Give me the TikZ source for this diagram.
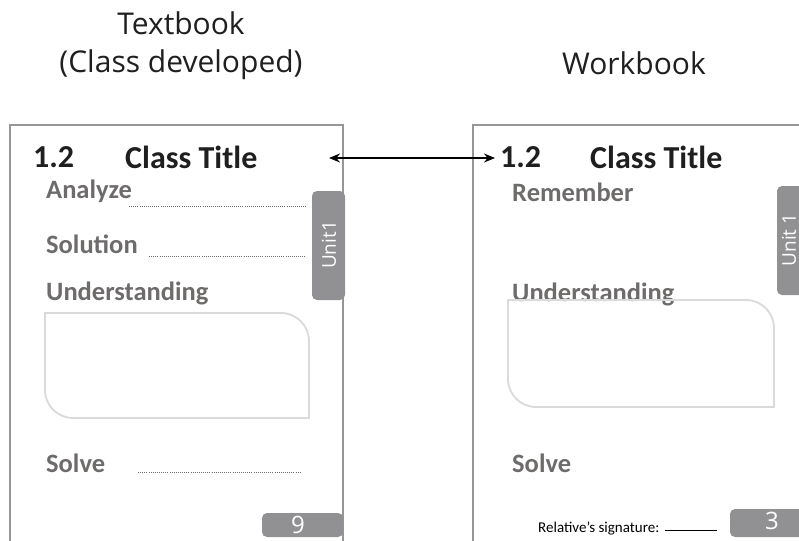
\documentclass[tikz,border=0pt]{standalone}
\usepackage{fontspec}
\setmainfont{Carlito}
\newfontfamily\headfont{Open Sans}
\usetikzlibrary{arrows.meta}

\definecolor{pagegray}{RGB}{150,150,150}
\definecolor{itemgray}{RGB}{110,107,107}
\definecolor{tabgray}{RGB}{145,145,148}
\definecolor{ansgray}{RGB}{218,218,218}

\begin{document}
\begin{tikzpicture}[x=1pt, y=-1pt,
    head/.style={font=\headfont\fontsize{30}{34}\selectfont, text=black!88, anchor=base, inner sep=0pt},
    sec/.style={font=\bfseries\fontsize{32}{36}\selectfont, text=black!88, anchor=west, inner sep=0pt},
    item/.style={font=\bfseries\fontsize{26.5}{30}\selectfont, text=itemgray, anchor=west, inner sep=0pt},
    dots/.style={draw=itemgray, line width=1pt, dash pattern=on 0.8pt off 1.3pt},
    pagebox/.style={draw=pagegray, line width=1.3pt},
    ansbox/.style={draw=ansgray, line width=1.8pt},
    tab/.style={fill=tabgray, rounded corners=5pt},
    tabtext/.style={font=\headfont\fontsize{19}{22}\selectfont, text=white, inner sep=0pt},
    numtext/.style={font=\headfont\fontsize{24}{28}\selectfont, text=white, inner sep=0pt},
    link/.style={line width=1.5pt, {Stealth[length=11pt,width=9pt]}-{Stealth[length=11pt,width=9pt]}}]
  \useasboundingbox (0,0) rectangle (799,540);
  \clip (0,0) rectangle (799,540);

  % headings
  \node[head] (tbhead) at (181,35) {Textbook};
  \node[head] (tbsub)  at (181,73) {(Class developed)};
  \node[head] (wbhead) at (634,75) {Workbook};

  % textbook page
  \draw[pagebox] (10,545) |- (343,125) -- (343,545);
  \node[sec] (tbnum)   at (33,157)  {1.2};
  \node[sec] (tbtitle) at (125,157) {Class Title};
  \node[item] (analyze) at (46,191) {Analyze};
  \node[item] (solution) at (46,244) {Solution};
  \node[item] (tbund)   at (46,293) {Understanding};
  \node[item] (tbsolve) at (46,463) {Solve};
  \draw[dots] (129,206) -- (306,206);
  \draw[dots] (149,256) -- (306,256);
  \draw[dots] (138,472) -- (300,472);
  \fill[tab] (312,191) rectangle (345,300);
  \node[tabtext, rotate=90] (tbunit) at (329,245) {Unit1};
  \draw[ansbox] (150,313) [rounded corners=28pt] -- (309,313) [sharp corners] -- (309,418)
    [rounded corners=28pt] -- (45,418) [sharp corners] -- (45,313) -- cycle;
  \fill[tab] (262,513) rectangle (343,537);
  \node[numtext] (tbpage) at (298,525) {9};

  % workbook page
  \draw[pagebox] (473,545) |- (810,125);
  \node[sec] (wbnum)   at (500,157) {1.2};
  \node[sec] (wbtitle) at (590,157) {Class Title};
  \node[item] (remember) at (512,192) {Remember};
  \node[item] (wbund)   at (512,294) {Understanding};
  \node[item] (wbsolve) at (512,463) {Solve};
  \fill[tab] (777,186) rectangle (815,295);
  \node[tabtext, rotate=90] (wbunit) at (789,240) {Unit 1};
  \draw[ansbox] (620,300) [rounded corners=28pt] -- (774,300) [sharp corners] -- (774,407)
    [rounded corners=28pt] -- (508,407) [sharp corners] -- (508,300) -- cycle;
  \node[font=\fontsize{15}{17}\selectfont, anchor=west, inner sep=0pt] (sign) at (538,528) {Relative’s signature:};
  \draw[line width=0.9pt] (665,530) -- (717,530);
  \fill[tab] (730,509) rectangle (812,537);
  \node[numtext] (wbpage) at (772,521) {3};

  % matching titles
  \coordinate (tbref) at (329,158);
  \coordinate (wbref) at (495,158);
  \draw[link] (tbref) -- (wbref);
\end{tikzpicture}
\end{document}
